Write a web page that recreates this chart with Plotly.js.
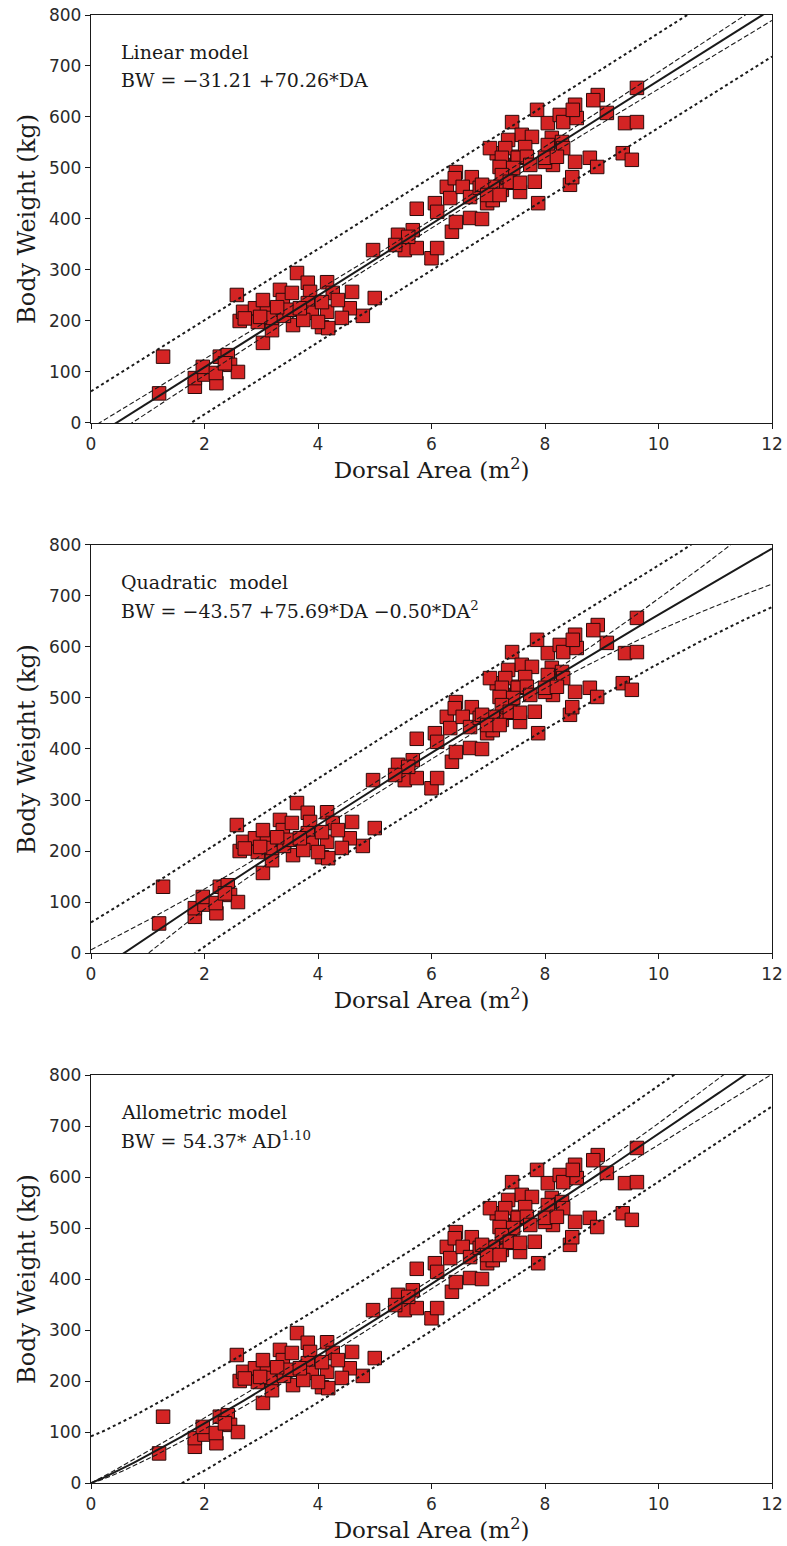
<!DOCTYPE html>
<html><head><meta charset="utf-8">
<script src="https://cdn.plot.ly/plotly-3.0.1.min.js"></script>
<style>body{margin:0;background:#fff}</style>
</head><body><div id="chart" style="width:787px;height:1546px"></div>
<script>
// ---- data (same points in all three panels) ----
const dorsalArea = [
1.20,1.27,1.83,1.83,2.00,1.97,2.21,2.20,2.27,2.41,2.45,2.59,2.36,2.57,2.62,2.68,2.89,2.94,3.10,3.03,3.03,3.19,3.19,3.33,3.38,
3.63,3.82,4.16,4.60,5.00,4.79,4.56,4.42,4.16,4.07,3.56,3.38,3.54,3.86,3.82,3.89,3.74,4.26,4.35,4.18,4.00,3.40,3.50,3.68,4.07,2.98,3.28,4.97,2.71,
5.41,5.53,5.74,6.00,6.10,5.67,5.59,5.36,6.36,6.43,6.68,6.89,5.74,6.06,6.10,6.27,6.33,6.43,6.41,6.71,6.55,6.68,6.98,7.08,6.85,7.26,7.24,7.33,7.44,7.15,7.51,
7.88,7.56,7.82,8.44,8.48,8.53,8.79,8.92,9.37,9.53,9.41,9.62,9.62,8.93,8.85,9.09,7.86,7.42,8.05,8.26,8.32,8.56,8.53,8.49,8.12,8.30,8.32,8.05,8.14,8.00,
7.59,7.77,7.65,7.35,7.30,7.03,7.24,7.52,7.68,7.74,7.44,7.20,7.24,7.38,7.08,6.89,6.98,7.20,7.56,8.00,8.21
];
const bodyWeight = [
58,130,71,88,95,110,78,98,130,133,114,100,117,251,200,218,225,198,222,241,157,182,206,261,222,
294,275,276,257,245,210,225,206,218,188,192,241,255,257,235,216,202,255,241,186,198,210,222,225,237,208,227,339,205,
369,339,343,323,343,378,365,349,375,394,402,400,420,431,414,463,441,492,480,482,463,443,431,437,461,506,457,482,471,529,522,
431,453,473,467,482,512,520,502,529,516,588,590,657,643,633,608,614,590,588,604,590,598,624,614,559,551,539,545,506,512,
565,561,541,555,539,539,520,520,522,506,500,502,486,473,463,467,447,447,471,520,522
];
const xTickVals = [0,2,4,6,8,10,12];
const yTickVals = [0,100,200,300,400,500,600,700,800];
const modelNames = ["Linear model", "Quadratic&nbsp; model", "Allometric model"];
const modelEquations = ["BW = −31.21 +70.26*DA", "BW = −43.57 +75.69*DA −0.50*DA<sup>2</sup>", "BW = 54.37* AD<sup>1.10</sup>"];
const linearCoef = [-31.21, 70.26];
const quadraticCoef = [-43.57, 75.69, -0.50];
const allometricCoef = [54.37, 1.10];
const tCrit = 1.977;

// ---- models: value and gradient wrt parameters ----
const models = [
  {f: x => linearCoef[0] + linearCoef[1]*x, g: x => [1, x]},
  {f: x => quadraticCoef[0] + quadraticCoef[1]*x + quadraticCoef[2]*x*x, g: x => [1, x, x*x]},
  {f: x => allometricCoef[0]*Math.pow(x, allometricCoef[1]),
   g: x => x <= 0 ? [0, 0] : [Math.pow(x, allometricCoef[1]), allometricCoef[0]*Math.pow(x, allometricCoef[1])*Math.log(x)]}
];

function invert(M){
  const n = M.length, A = M.map((r,i)=>r.concat(M.map((_,j)=>i===j?1:0)));
  for(let c=0;c<n;c++){
    let p=c; for(let r=c+1;r<n;r++) if(Math.abs(A[r][c])>Math.abs(A[p][c])) p=r;
    [A[c],A[p]]=[A[p],A[c]];
    const d=A[c][c]; for(let k=0;k<2*n;k++) A[c][k]/=d;
    for(let r=0;r<n;r++) if(r!==c){const f=A[r][c]; for(let k=0;k<2*n;k++) A[r][k]-=f*A[c][k];}
  }
  return A.map(r=>r.slice(n));
}

function bands(m){
  const n = dorsalArea.length, p = m.g(1).length;
  const M = Array.from({length:p},()=>Array(p).fill(0));
  let sse = 0;
  dorsalArea.forEach((x,i)=>{
    const g = m.g(x);
    for(let a=0;a<p;a++) for(let b=0;b<p;b++) M[a][b]+=g[a]*g[b];
    sse += Math.pow(bodyWeight[i]-m.f(x),2);
  });
  const s2 = sse/(n-p), Minv = invert(M);
  const xs=[], fit=[], cu=[], cl=[], pu=[], pl=[];
  for(let k=0;k<=240;k++){
    const x = k*0.05, g = m.g(x), y = m.f(x);
    let q=0; for(let a=0;a<p;a++) for(let b=0;b<p;b++) q+=g[a]*Minv[a][b]*g[b];
    const ci = tCrit*Math.sqrt(s2*q), pi = tCrit*Math.sqrt(s2*(1+q));
    xs.push(x); fit.push(y); cu.push(y+ci); cl.push(y-ci); pu.push(y+pi); pl.push(y-pi);
  }
  return {xs, fit, cu, cl, pu, pl};
}

const traces = [];
const annotations = [];
const layout = {
  width:787, height:1546, showlegend:false,
  margin:{l:91, r:15, t:15, b:63},
  paper_bgcolor:'#fff', plot_bgcolor:'#fff',
  font:{family:'DejaVu Sans', color:'#1a1a1a', size:16}
};
const domains = [[0.7221,1],[0.3610,0.6390],[0,0.2779]];
const ink = '#1a1a1a';

models.forEach((m,i)=>{
  const xa = 'x'+(i?i+1:''), ya = 'y'+(i?i+1:'');
  const b = bands(m);
  traces.push({x:dorsalArea, y:bodyWeight, xaxis:xa, yaxis:ya, type:'scatter', mode:'markers',
    marker:{symbol:'square', size:13.5, color:'#d42424', line:{color:'#2a0a0a', width:1}}, cliponaxis:false});
  traces.push({x:b.xs, y:b.fit, xaxis:xa, yaxis:ya, mode:'lines', line:{color:ink, width:2}});
  traces.push({x:b.xs, y:b.cu, xaxis:xa, yaxis:ya, mode:'lines', line:{color:ink, width:1.1, dash:'5px,2.5px'}});
  traces.push({x:b.xs, y:b.cl, xaxis:xa, yaxis:ya, mode:'lines', line:{color:ink, width:1.1, dash:'5px,2.5px'}});
  traces.push({x:b.xs, y:b.pu, xaxis:xa, yaxis:ya, mode:'lines', line:{color:ink, width:2, dash:'dot'}});
  traces.push({x:b.xs, y:b.pl, xaxis:xa, yaxis:ya, mode:'lines', line:{color:ink, width:2, dash:'dot'}});

  const axName = i ? (i+1) : '';
  layout['xaxis'+axName] = {anchor:ya, domain:[0,1], range:[0,12], tickvals:xTickVals,
    showline:true, mirror:true, linecolor:ink, linewidth:1.2, ticks:'outside', ticklen:5, tickcolor:ink,
    showgrid:false, zeroline:false, tickfont:{family:'DejaVu Sans', size:17, color:'#2a2a2a'},
    title:{text:'Dorsal Area (m<sup>2</sup>)', font:{family:'DejaVu Serif', size:23, color:ink}, standoff:2}};
  layout['yaxis'+axName] = {anchor:xa, domain:domains[i], range:[0,800], tickvals:yTickVals,
    showline:true, mirror:true, linecolor:ink, linewidth:1.2, ticks:'outside', ticklen:5, tickcolor:ink,
    showgrid:false, zeroline:false, tickfont:{family:'DejaVu Sans', size:17, color:'#2a2a2a'},
    title:{text:'Body Weight (kg)', font:{family:'DejaVu Serif', size:24, color:ink}, standoff:6}};
  annotations.push({xref:xa, yref:ya, x:0.5, y:727, xanchor:'left', yanchor:'middle', showarrow:false,
    text:modelNames[i], font:{family:'DejaVu Serif', size:19, color:ink}});
  annotations.push({xref:xa, yref:ya, x:0.5, y:672, xanchor:'left', yanchor:'middle', showarrow:false,
    text:modelEquations[i], font:{family:'DejaVu Serif', size:19, color:ink}});
});
layout.annotations = annotations;
Plotly.newPlot('chart', traces, layout, {staticPlot:true, displayModeBar:false});
</script></body></html>
